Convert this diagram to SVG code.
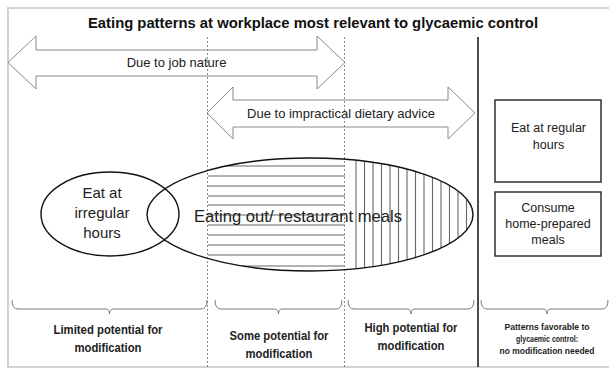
<svg xmlns="http://www.w3.org/2000/svg" width="609" height="370" viewBox="0 0 609 370">
  <defs>
    <style>
      .frame { fill: #ffffff; stroke: #d2d2d2; stroke-width: 2; }
      .title { font-family: "Liberation Sans", Arial, sans-serif; font-weight: bold; font-size: 15px; fill: #111; }
      .lbl { font-family: "Liberation Sans", Arial, sans-serif; fill: #222; text-anchor: middle; }
      .bold { font-weight: bold; }
      .arrow { fill: #ffffff; stroke: #8a8a8a; stroke-width: 1; stroke-linejoin: miter; }
      .dash { stroke: #8a8a8a; stroke-width: 1; stroke-dasharray: 2 2; fill: none; }
      .divider { stroke: #111; stroke-width: 1.5; }
      .shape { fill: none; stroke: #111; stroke-width: 1.4; }
      .box { fill: #ffffff; stroke: #222; stroke-width: 1.4; }
      .hatch { stroke: #666; stroke-width: 1.1; }
      .brace { fill: none; stroke: #7a7a7a; stroke-width: 1; }
    </style>
    <clipPath id="bigEllipseClip">
      <ellipse cx="310" cy="214.5" rx="163" ry="56.5"/>
    </clipPath>
  </defs>

  <!-- page frame -->
  <rect class="frame" x="8" y="8" width="612" height="359"/>

  <!-- title -->
  <text class="title" x="313" y="28" text-anchor="middle" textLength="450" lengthAdjust="spacingAndGlyphs">Eating patterns at workplace most relevant to glycaemic control</text>

  <!-- double-headed arrows for causes -->
  <g id="arrow-job-nature">
    <polygon class="arrow" points="8,62.5 36,36 36,50 317,50 317,36 345,62.5 317,89 317,76 36,76 36,89"/>
    <text class="lbl" x="176.5" y="67" font-size="13">Due to job nature</text>
  </g>
  <g id="arrow-dietary-advice">
    <polygon class="arrow" points="207,113 233,87 233,100 448,100 448,87 475,113 448,139 448,127 233,127 233,139"/>
    <text class="lbl" x="341" y="118" font-size="13">Due to impractical dietary advice</text>
  </g>

  <!-- hatching of the large ellipse -->
  <g id="hatching" clip-path="url(#bigEllipseClip)">
    <g class="hatch">
      <line x1="208" y1="166" x2="345" y2="166"/>
      <line x1="208" y1="176" x2="345" y2="176"/>
      <line x1="208" y1="186" x2="345" y2="186"/>
      <line x1="208" y1="196" x2="345" y2="196"/>
      <line x1="208" y1="205" x2="345" y2="205"/>
      <line x1="208" y1="215" x2="345" y2="215"/>
      <line x1="208" y1="225" x2="345" y2="225"/>
      <line x1="208" y1="235" x2="345" y2="235"/>
      <line x1="208" y1="245" x2="345" y2="245"/>
      <line x1="208" y1="255" x2="345" y2="255"/>
      <line x1="208" y1="266" x2="345" y2="266"/>
    </g>
    <g class="hatch">
      <line x1="356" y1="150" x2="356" y2="280"/>
      <line x1="364.5" y1="150" x2="364.5" y2="280"/>
      <line x1="373" y1="150" x2="373" y2="280"/>
      <line x1="381.5" y1="150" x2="381.5" y2="280"/>
      <line x1="390" y1="150" x2="390" y2="280"/>
      <line x1="398.5" y1="150" x2="398.5" y2="280"/>
      <line x1="407" y1="150" x2="407" y2="280"/>
      <line x1="415.5" y1="150" x2="415.5" y2="280"/>
      <line x1="424" y1="150" x2="424" y2="280"/>
      <line x1="432.5" y1="150" x2="432.5" y2="280"/>
      <line x1="441" y1="150" x2="441" y2="280"/>
      <line x1="449.5" y1="150" x2="449.5" y2="280"/>
      <line x1="458" y1="150" x2="458" y2="280"/>
      <line x1="466.5" y1="150" x2="466.5" y2="280"/>
    </g>
  </g>

  <!-- column dividers -->
  <g id="dividers">
    <line class="dash" x1="207.5" y1="37" x2="207.5" y2="367"/>
    <line class="dash" x1="344.5" y1="37" x2="344.5" y2="367"/>
    <line class="divider" x1="478" y1="37" x2="478" y2="367"/>
  </g>

  <!-- eating-pattern nodes -->
  <g id="node-irregular-hours">
    <ellipse class="shape" cx="110" cy="214" rx="69" ry="42"/>
    <text class="lbl" x="102" y="198" font-size="15">Eat at</text>
    <text class="lbl" x="102" y="218" font-size="15">irregular</text>
    <text class="lbl" x="102" y="238" font-size="15">hours</text>
  </g>
  <g id="node-eating-out">
    <ellipse class="shape" cx="310" cy="214.5" rx="163" ry="56.5"/>
    <text class="lbl" x="298" y="222" font-size="17" textLength="208" lengthAdjust="spacingAndGlyphs">Eating out/ restaurant meals</text>
  </g>
  <g id="node-regular-hours">
    <rect class="box" x="495" y="100" width="106" height="82"/>
    <text class="lbl" x="548.5" y="132" font-size="12.5">Eat at regular</text>
    <text class="lbl" x="548.5" y="149" font-size="12.5">hours</text>
  </g>
  <g id="node-home-prepared">
    <rect class="box" x="495" y="192" width="106" height="64"/>
    <text class="lbl" x="548" y="212" font-size="12.5">Consume</text>
    <text class="lbl" x="548" y="228" font-size="12.5">home-prepared</text>
    <text class="lbl" x="548" y="244" font-size="12.5">meals</text>
  </g>

  <!-- braces grouping the columns -->
  <g id="braces">
    <path class="brace" d="M12,300 Q12,309 18,309 L105.5,309 Q109.5,309 109.5,314 Q109.5,309 113.5,309 L201,309 Q207,309 207,300"/>
    <path class="brace" d="M215,300 Q215,309 221,309 L274.5,309 Q278.5,309 278.5,314 Q278.5,309 282.5,309 L336,309 Q342,309 342,300"/>
    <path class="brace" d="M348,300 Q348,309 354,309 L407,309 Q411,309 411,314 Q411,309 415,309 L468,309 Q474,309 474,300"/>
    <path class="brace" d="M481,300 Q481,309 487,309 L543,309 Q547,309 547,314 Q547,309 551,309 L602,309 Q608,309 608,300"/>
  </g>

  <!-- column labels -->
  <g id="label-limited">
    <text class="lbl bold" x="108" y="334" font-size="12.5" textLength="109" lengthAdjust="spacingAndGlyphs">Limited potential for</text>
    <text class="lbl bold" x="108" y="352" font-size="12.5" textLength="67" lengthAdjust="spacingAndGlyphs">modification</text>
  </g>
  <g id="label-some">
    <text class="lbl bold" x="279" y="340" font-size="12.5" textLength="99" lengthAdjust="spacingAndGlyphs">Some potential for</text>
    <text class="lbl bold" x="279" y="358" font-size="12.5" textLength="67" lengthAdjust="spacingAndGlyphs">modification</text>
  </g>
  <g id="label-high">
    <text class="lbl bold" x="411" y="332" font-size="12.5" textLength="93" lengthAdjust="spacingAndGlyphs">High potential for</text>
    <text class="lbl bold" x="411" y="350" font-size="12.5" textLength="67" lengthAdjust="spacingAndGlyphs">modification</text>
  </g>
  <g id="label-favorable">
    <text class="lbl bold" x="547" y="330" font-size="9.5" textLength="85" lengthAdjust="spacingAndGlyphs">Patterns favorable to</text>
    <text class="lbl bold" x="547" y="342" font-size="9.5" textLength="62" lengthAdjust="spacingAndGlyphs">glycaemic control:</text>
    <text class="lbl bold" x="547" y="354" font-size="9.5" textLength="95" lengthAdjust="spacingAndGlyphs">no modification needed</text>
  </g>
</svg>
